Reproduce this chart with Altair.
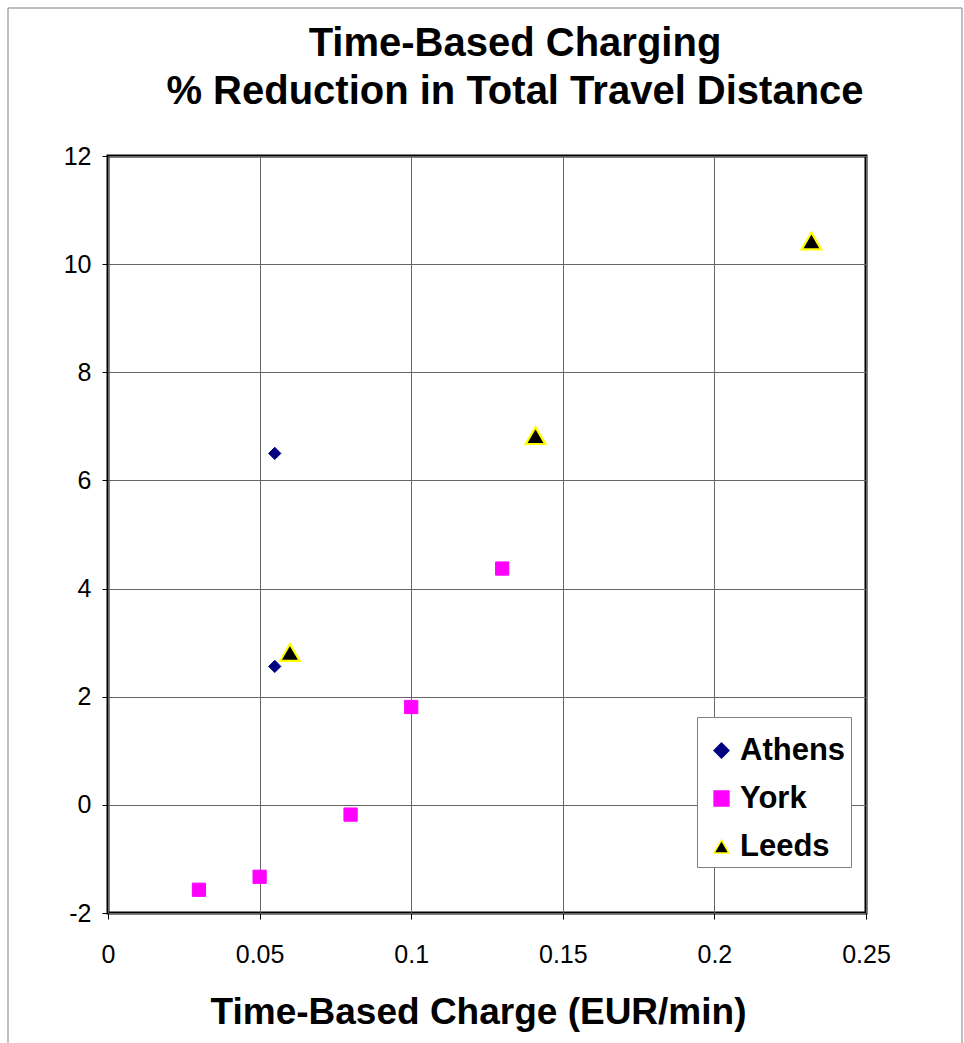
import altair as alt
import pandas as pd

athens_x = [0.055, 0.055]
athens_y = [6.5, 2.56]
york_x = [0.03, 0.05, 0.08, 0.10, 0.13]
york_y = [-1.57, -1.33, -0.18, 1.81, 4.37]
leeds_x = [0.06, 0.141, 0.232]
leeds_y = [2.82, 6.83, 10.43]

cities = ["Athens", "York", "Leeds"]
x_ticks = [0, 0.05, 0.1, 0.15, 0.2, 0.25]
y_ticks = [-2, 0, 2, 4, 6, 8, 10, 12]


def frame_of(name, xs, ys):
    return pd.DataFrame({"city": name, "charge": xs, "reduction": ys})


W, H = 758, 757
PAD_L, PAD_T = 108, 156

frame = alt.Chart(pd.DataFrame({"k": [0]})).mark_rect(
    fill=None, stroke="#808080", strokeWidth=1, clip=False
).encode(
    x=alt.value(8 - PAD_L), x2=alt.value(962 - PAD_L),
    y=alt.value(8 - PAD_T), y2=alt.value(1060 - PAD_T),
)

enc = dict(
    x=alt.X("charge:Q",
            scale=alt.Scale(domain=[0, 0.25], nice=False, zero=False),
            axis=alt.Axis(values=x_ticks, labelExpr="toString(datum.value)", labelFlush=False,
                          title="Time-Based Charge (EUR/min)")),
    y=alt.Y("reduction:Q",
            scale=alt.Scale(domain=[-2, 12], nice=False, zero=False),
            axis=alt.Axis(values=y_ticks, labelExpr="toString(datum.value)", labelFlush=False,
                          title=None)),
    shape=alt.Shape("city:N", scale=alt.Scale(domain=cities, range=["diamond", "square", "triangle-up"]),
                    legend=alt.Legend(title=" ")),
    fill=alt.Fill("city:N", scale=alt.Scale(domain=cities, range=["#000080", "#FF00FF", "#000000"]),
                  legend=alt.Legend(title=" ")),
    stroke=alt.Stroke("city:N", scale=alt.Scale(domain=cities, range=["#000080", "#FF00FF", "#FFFF00"]),
                      legend=alt.Legend(title=" ")),
)

athens = alt.Chart(frame_of("Athens", athens_x, athens_y)).mark_point(
    filled=True, opacity=1, size=150, strokeWidth=1).encode(**enc)
york = alt.Chart(frame_of("York", york_x, york_y)).mark_point(
    filled=True, opacity=1, size=175, strokeWidth=1).encode(**enc)
leeds = alt.Chart(frame_of("Leeds", leeds_x, leeds_y)).mark_point(
    filled=True, opacity=1, size=380, strokeWidth=2.2).encode(**enc)

chart = alt.layer(frame, athens, york, leeds).properties(
    width=W, height=H,
    title=alt.Title(["Time-Based Charging", "% Reduction in Total Travel Distance"],
                    fontSize=40, font="Liberation Sans", fontWeight="bold", color="#000000",
                    lineHeight=48, anchor="middle", dx=28, offset=-104),
    autosize=alt.AutoSizeParams(type="none"),
    padding={"left": PAD_L, "top": PAD_T, "right": 964 - PAD_L - W, "bottom": 1043 - PAD_T - H},
    background="white",
).configure_view(
    stroke="#000000", strokeWidth=3
).configure_axis(
    labelFont="Liberation Sans", labelFontSize=25, labelColor="#000000",
    titleFont="Liberation Sans", titleFontSize=37, titleFontWeight="bold", titleColor="#000000",
    gridColor="#666666", gridWidth=1, gridOpacity=1,
    domain=False, tickColor="#000000", tickSize=6, tickWidth=1,
).configure_axisX(
    labelPadding=23, titlePadding=27, titleX=370,
).configure_axisY(
    labelPadding=11,
).configure_legend(
    orient="none", legendX=589, legendY=561,
    fillColor="#FFFFFF", strokeColor="#808080", strokeWidth=1,
    padding=5, rowPadding=16,
    titleFontSize=8, titlePadding=5,
    symbolSize=220, symbolOffset=4, symbolStrokeWidth=1.5,
    labelFont="Liberation Sans", labelFontSize=31, labelFontWeight="bold", labelColor="#000000",
    labelOffset=3,
)

chart.save("out.html", embed_options={"renderer": "svg", "actions": False})
